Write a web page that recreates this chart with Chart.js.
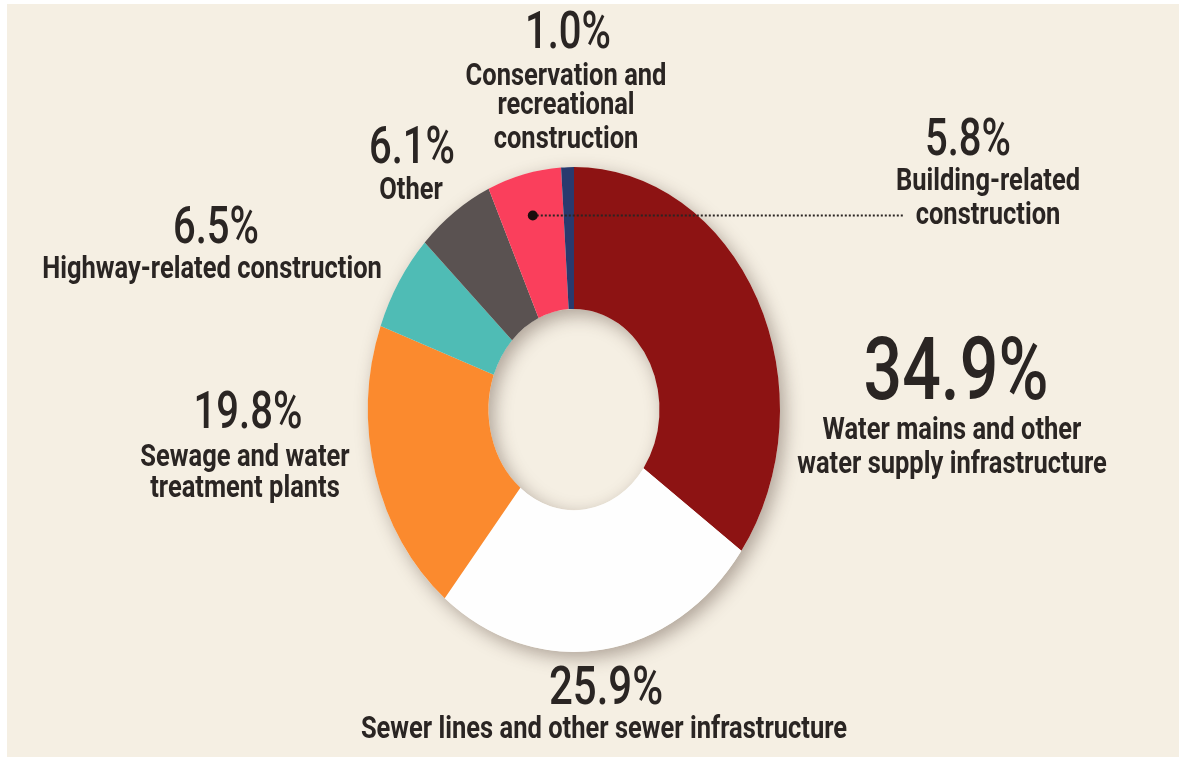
<!DOCTYPE html>
<html>
<head>
<meta charset="utf-8">
<script src="https://cdn.jsdelivr.net/npm/chart.js@4/dist/chart.umd.min.js"></script>
<style>
    html, body { margin: 0; padding: 0; background: #ffffff; }
    #wrap { width: 1179px; height: 757px; }
</style>
</head>
<body>
<div id="wrap"><canvas id="graph" width="1179" height="757"></canvas></div>
<script>
// share of spending, clockwise from 12 o'clock
const categories = [
    "Water mains and other water supply infrastructure",
    "Sewer lines and other sewer infrastructure",
    "Sewage and water treatment plants",
    "Highway-related construction",
    "Other",
    "Building-related construction",
    "Conservation and recreational construction"
];
const shares = [34.9, 25.9, 19.8, 6.5, 6.1, 5.8, 1.0];
const labelLines = [
    ["Water mains and other", "water supply infrastructure"],
    ["Sewer lines and other sewer infrastructure"],
    ["Sewage and water", "treatment plants"],
    ["Highway-related construction"],
    ["Other"],
    ["Building-related", "construction"],
    ["Conservation and", "recreational", "construction"]
];
const sliceColors = ["#8d1313", "#fefefe", "#fb8a2e", "#4fbcb5", "#5a5251", "#fa3f5c", "#283a6e"];

const bg = "#f5efe3";
const ink = "#2a2523";
const ringStretch = 1.177;   // the ring is drawn as an upright ellipse
const textStretch = 1.26;

// where each label block sits: centre x, percent line y, text line ys
const labelLayout = [
    {x: 956, pctY: 377, pctSize: 68, lineX: 952, lineY: [431, 465]},
    {x: 606, pctY: 691, pctSize: 42, lineX: 604, lineY: [730]},
    {x: 248, pctY: 415, pctSize: 40, lineX: 245, lineY: [458, 489]},
    {x: 216, pctY: 230, pctSize: 40, lineX: 212, lineY: [270]},
    {x: 412, pctY: 150, pctSize: 40, lineX: 411, lineY: [191]},
    {x: 968, pctY: 142, pctSize: 40, lineX: 988, lineY: [182, 216]},
    {x: 568, pctY: 35, pctSize: 40, lineX: 566, lineY: [77, 106, 140]}
];
const calloutIndex = 5;
const calloutEndX = 903;

function stretchedText(ctx, txt, x, y, font, k) {
    ctx.save();
    ctx.translate(x, y);
    ctx.scale(1, k);
    ctx.font = font;
    ctx.textAlign = "center";
    ctx.textBaseline = "middle";
    ctx.fillText(txt, 0, 0);
    ctx.restore();
}

const backdrop = {
    id: "backdrop",
    beforeDraw(chart) {
        const ctx = chart.ctx;
        ctx.save();
        ctx.fillStyle = "#ffffff";
        ctx.fillRect(0, 0, chart.width, chart.height);
        ctx.fillStyle = bg;
        ctx.fillRect(7, 4, chart.width - 7, chart.height - 4);
        ctx.restore();
    }
};

const ellipseRing = {
    id: "ellipseRing",
    beforeDatasetsDraw(chart) {
        const arc = chart.getDatasetMeta(0).data[0];
        const {x, y, outerRadius, innerRadius} = arc.getProps(["x", "y", "outerRadius", "innerRadius"], true);
        const ctx = chart.ctx;
        ctx.save();
        ctx.translate(x, y);
        ctx.scale(1, ringStretch);
        ctx.translate(-x, -y);
        // soft shadow under the ring
        ctx.save();
        ctx.shadowColor = "rgba(70, 50, 40, 0.4)";
        ctx.shadowBlur = 18;
        ctx.shadowOffsetX = 5;
        ctx.shadowOffsetY = 6;
        ctx.beginPath();
        ctx.arc(x, y, outerRadius, 0, Math.PI * 2);
        ctx.arc(x, y, innerRadius, 0, Math.PI * 2, true);
        ctx.fillStyle = bg;
        ctx.fill();
        ctx.restore();
    },
    afterDatasetsDraw(chart) {
        chart.ctx.restore();
    }
};

const labels = {
    id: "labels",
    afterDraw(chart) {
        const ctx = chart.ctx;
        const meta = chart.getDatasetMeta(0);
        ctx.save();
        ctx.fillStyle = ink;
        meta.data.forEach((arc, i) => {
            const lay = labelLayout[i];
            const val = chart.data.datasets[0].data[i];
            stretchedText(ctx, val.toFixed(1) + "%", lay.x, lay.pctY, "500 " + lay.pctSize + "px Roboto", 1.28);
            labelLines[i].forEach((line, j) => {
                stretchedText(ctx, line, lay.lineX, lay.lineY[j], "bold 25.5px Roboto", textStretch);
            });
        });

        // callout dot + dotted leader for the building slice
        const a = meta.data[calloutIndex].getProps(["x", "y", "startAngle", "endAngle", "innerRadius", "outerRadius"], true);
        const ang = (a.startAngle + a.endAngle) / 2;
        const r = a.innerRadius + 0.7 * (a.outerRadius - a.innerRadius);
        const px = a.x + r * Math.cos(ang);
        const py = a.y + ringStretch * r * Math.sin(ang);
        ctx.strokeStyle = ink;
        ctx.lineWidth = 2;
        ctx.setLineDash([2, 2]);
        ctx.beginPath();
        ctx.moveTo(px, py);
        ctx.lineTo(calloutEndX, py);
        ctx.stroke();
        ctx.setLineDash([]);
        ctx.beginPath();
        ctx.arc(px, py, 5, 0, Math.PI * 2);
        ctx.fillStyle = "#1c0d0d";
        ctx.fill();
        ctx.restore();
    }
};

const data = {
    labels: categories,
    datasets: [{
        data: shares,
        backgroundColor: sliceColors,
        borderWidth: 0,
        hoverBorderWidth: 0,
        hoverOffset: 0,
        clip: false
    }]
};

const config = {
    type: "doughnut",
    data: data,
    options: {
        responsive: false,
        animation: false,
        events: [],
        cutout: "41.5%",
        rotation: 0,
        layout: {padding: {left: 368, right: 399, top: 203.5, bottom: 141.5}},
        plugins: {legend: {display: false}, tooltip: {enabled: false}}
    },
    plugins: [backdrop, ellipseRing, labels]
};

let myChart = new Chart(document.getElementById("graph"), config);
</script>
</body>
</html>
